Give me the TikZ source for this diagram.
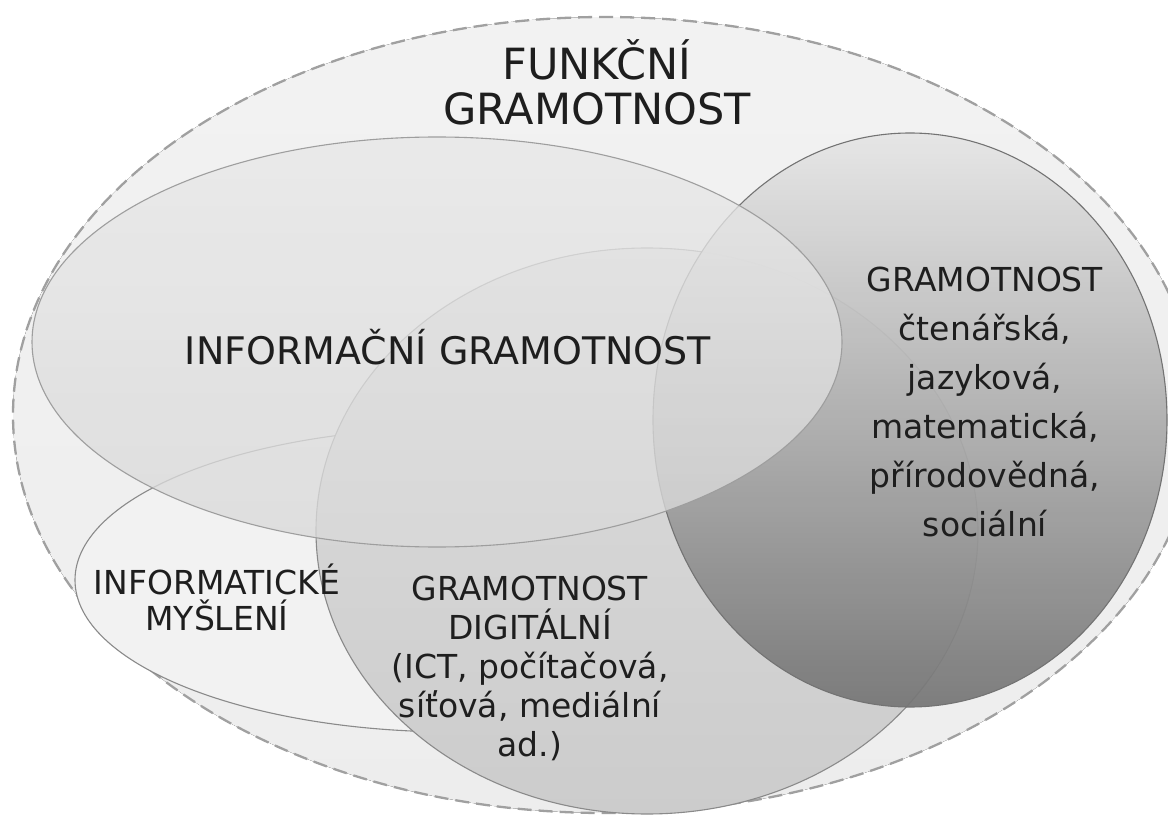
\documentclass[tikz,border=0pt]{standalone}
\usepackage{fontspec}
\setmainfont{DejaVu Sans}
\definecolor{txt}{HTML}{1E1E1E}
\definecolor{linegray}{HTML}{8A8A8A}
\definecolor{dashgray}{HTML}{A0A0A0}
\begin{document}
\begin{tikzpicture}[x=1pt,y=-1pt,
  outline/.style={draw=linegray, line width=1.1pt},
  lbl/.style={text=txt, align=center, inner sep=0pt},
]
\useasboundingbox (0,0) rectangle (1168,818);
\fill[white] (0,0) rectangle (1168,818);
\begin{scope}
\clip (0,0) rectangle (1168,818);
% outer: funkcni gramotnost
\fill[top color=black!5, bottom color=black!7] (605,415) ellipse [x radius=592pt, y radius=398pt];
\draw[dashgray, dash pattern=on 14pt off 7pt, line width=2.3pt] (605,415) ellipse [x radius=592pt, y radius=398pt];
% informaticke mysleni
\draw[outline, fill=black!5] (455,580) ellipse [x radius=380pt, y radius=152pt];
% digitalni
\draw[outline, top color=black!13, bottom color=black!20] (647,531) ellipse [x radius=331pt, y radius=283pt];
% gramotnost (ctenarska ...)
\draw[draw=black!55, line width=1.1pt, fill opacity=0.93, top color=black!10, middle color=black!27, bottom color=black!54] (910,420) ellipse [x radius=257pt, y radius=287pt];
% informacni gramotnost
\draw[draw=black!38, line width=1.1pt, fill opacity=0.78, top color=black!9, bottom color=black!15] (437,342) ellipse [x radius=405pt, y radius=205pt];
\end{scope}
% labels
\node[lbl, font=\fontsize{43}{45}\selectfont] (funkcni) at (597,82) {FUNKČNÍ\\GRAMOTNOST};
\node[lbl, font=\fontsize{38}{40}\selectfont] (informacni) at (448,347) {INFORMAČNÍ GRAMOTNOST};
\node[lbl, font=\fontsize{33}{49}\selectfont] (gram) at (985,402) {GRAMOTNOST\\čtenářská,\\jazyková,\\matematická,\\přírodovědná,\\sociální};
\node[lbl, font=\fontsize{33}{36}\selectfont] (informaticke) at (217,597) {INFORMATICKÉ\\MYŠLENÍ};
\node[lbl, font=\fontsize{33}{39}\selectfont] (digitalni) at (530,668) {GRAMOTNOST\\DIGITÁLNÍ\\(ICT, počítačová,\\síťová, mediální\\ad.)};
\end{tikzpicture}
\end{document}
